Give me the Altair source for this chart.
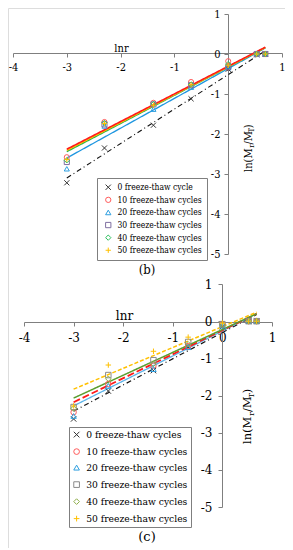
import altair as alt
import pandas as pd

# ---------------- data ----------------
lnr = [-3.00, -2.30, -1.39, -0.69, 0.00, 0.53, 0.69]
cycles = [0, 10, 20, 30, 40, 50]
labels_b = ["0 freeze-thaw cycle", "10 freeze-thaw cycles", "20 freeze-thaw cycles",
            "30 freeze-thaw cycles", "40 freeze-thaw cycles", "50 freeze-thaw cycles"]
labels_c = ["0 freeze-thaw cycles", "10 freeze-thaw cycles", "20 freeze-thaw cycles",
            "30 freeze-thaw cycles", "40 freeze-thaw cycles", "50 freeze-thaw cycles"]

# panel (b) measured points ln(Mr/MT)
b_0 = [-3.22, -2.35, -1.78, -1.12, -0.38, -0.02, 0.00]
b_10 = [-2.58, -1.70, -1.22, -0.70, -0.18, 0.00, 0.00]
b_20 = [-2.87, -1.80, -1.38, -0.83, -0.30, 0.00, 0.00]
b_30 = [-2.70, -1.76, -1.26, -0.78, -0.33, 0.00, 0.00]
b_40 = [-2.66, -1.72, -1.25, -0.76, -0.25, 0.00, 0.00]
b_50 = [-2.64, -1.74, -1.28, -0.77, -0.28, 0.00, 0.00]

# panel (c) measured points
c_0 = [-2.63, -1.88, -1.33, -0.70, -0.15, 0.00, 0.00]
c_10 = [-2.45, -1.69, -1.20, -0.67, -0.08, 0.00, 0.00]
c_20 = [-2.55, -1.74, -1.29, -0.70, -0.12, 0.00, 0.00]
c_30 = [-2.31, -1.45, -1.05, -0.56, -0.08, 0.00, 0.00]
c_40 = [-2.35, -1.55, -1.15, -0.62, -0.10, 0.00, 0.00]
c_50 = [-2.28, -1.18, -0.81, -0.43, -0.05, 0.00, 0.00]

# fitted lines (start / end at lnr = -3 and 0.69)
line_x = [-3.00, 0.69]
bl_0 = [-3.10, 0.08]
bl_10 = [-2.38, 0.17]
bl_20 = [-2.60, 0.15]
bl_40 = [-2.44, 0.16]
bl_50 = [-2.41, 0.16]
cl_0 = [-2.42, 0.18]
cl_10 = [-2.18, 0.20]
cl_20 = [-2.28, 0.20]
cl_40 = [-2.07, 0.20]
cl_50 = [-1.83, 0.24]

x_ticks = [-4, -3, -2, -1, 0, 1]
y_ticks = [-5, -4, -3, -2, -1, 0, 1]
captions = ["(b)", "(c)"]
axis_title_x = "lnr"

# ---------------- style ----------------
FONT_B = "DejaVu Serif Condensed"
FONT_C = "DejaVu Serif"
GRAY = "#7f7f7f"
x_shape = "M-1,-1L1,1M1,-1L-1,1"
plus_shape = "M-1,0L1,0M0,-1L0,1"
shapes = [x_shape, "circle", "triangle-up", "square", "diamond", plus_shape]
pt_colors_b = ["#333333", "#ff5a5a", "#2e9fe0", "#7f6fa0", "#2fbf5f", "#ffc000"]
pt_colors_c = ["#333333", "#ff5a5a", "#2e9fe0", "#8a8a8a", "#8fae4a", "#ffc000"]


def long_points(vals, labels):
    rows = []
    for lab, vs in zip(labels, vals):
        for xv, yv in zip(lnr, vs):
            rows.append({"lnr": xv, "val": yv, "series": lab})
    return pd.DataFrame(rows)


def make_panel(FONT, vals, labels, colors, lines, xr, yr, xoff, yoff, title_x, title_y,
               tick_fs, ylab_fs, leg, caption, cap_xy, ytitle, pad_x, pad_y):
    xenc = alt.X("lnr:Q", scale=alt.Scale(domain=[-4, 1], range=xr, nice=False, zero=False),
                 axis=alt.Axis(orient="bottom", offset=xoff, values=x_ticks,
                               labelExpr="'' + datum.value", labelFont=FONT,
                               labelFontSize=tick_fs, labelColor="black", labelPadding=pad_x,
                               labelOverlap=False, labelFlush=False,
                               tickSize=4, tickColor=GRAY, domainColor=GRAY, grid=False,
                               title=axis_title_x, titleFont=FONT, titleFontSize=tick_fs,
                               titleFontWeight="normal", titleX=title_x, titleY=title_y,
                               titleBaseline="alphabetic", titleAlign="center", titleAngle=0))
    yenc = alt.Y("val:Q", scale=alt.Scale(domain=[-5, 1], range=yr, nice=False, zero=False),
                 axis=alt.Axis(orient="left", offset=yoff, values=y_ticks,
                               labelExpr="'' + datum.value", labelFont=FONT,
                               labelFontSize=ylab_fs, labelColor="black", labelPadding=pad_y,
                               labelOverlap=False, labelFlush=False,
                               tickSize=4, tickColor=GRAY, domainColor=GRAY, grid=False,
                               title=None))
    layers = []
    for (lv, col, dash, sw) in lines:
        df_l = pd.DataFrame({"lnr": line_x, "val": lv})
        layers.append(alt.Chart(df_l).mark_line(color=col, strokeDash=dash, strokeWidth=sw)
                      .encode(x=xenc, y=yenc))
    legend = alt.Legend(title=None, orient="none", legendX=leg["x"], legendY=leg["y"],
                        direction="vertical", strokeColor=GRAY, fillColor="white",
                        padding=leg["pad"], labelFont=FONT, labelFontSize=leg["fs"],
                        labelColor="black", symbolSize=leg["ss"], symbolStrokeWidth=1,
                        rowPadding=leg["rp"], labelOffset=leg["lo"], symbolOffset=leg["so"],
                        labelLimit=0, cornerRadius=0)
    df_p = long_points(vals, labels)
    layers.append(alt.Chart(df_p).mark_point(filled=False, size=leg["ps"], strokeWidth=1, opacity=1)
                  .encode(x=xenc, y=yenc,
                          color=alt.Color("series:N", scale=alt.Scale(domain=labels, range=colors),
                                          legend=legend, sort=labels),
                          shape=alt.Shape("series:N", scale=alt.Scale(domain=labels, range=shapes),
                                          legend=legend, sort=labels)))
    # caption
    layers.append(alt.Chart(pd.DataFrame({"t": [caption]})).mark_text(
        font=FONT, fontSize=13, color="black", align="center", baseline="middle")
        .encode(text="t:N", x=alt.value(cap_xy[0]), y=alt.value(cap_xy[1])))
    # rotated y title ln(Mr/MT) with subscripts
    f = ytitle["fs"]
    bx, by = ytitle["x"], ytitle["y"]
    w = ytitle["w"]
    pieces = [("ln(M", 0.0, f, 0.0), ("r", w[0], 0.7 * f, 0.22 * f), ("/M", w[1], f, 0.0),
              ("T", w[2], 0.7 * f, 0.22 * f), (")", w[3], f, 0.0)]
    for txt, off, fs, dx in pieces:
        layers.append(alt.Chart(pd.DataFrame({"t": [txt]})).mark_text(
            font=FONT, fontSize=fs, color="black", angle=270, align="left", baseline="alphabetic")
            .encode(text="t:N", x=alt.value(bx + dx), y=alt.value(by - off * f)))
    return alt.layer(*layers)


lines_b = [
    (bl_0, "#111111", [5, 3, 1, 3], 1.1),
    (bl_20, "#1e96e0", [1, 0], 1.3),
    (bl_40, "#22b14c", [1, 0], 1.5),
    (bl_50, "#ffc000", [1, 0], 1.5),
    (bl_10, "#ff1a1a", [1, 0], 1.6),
]
lines_c = [
    (cl_0, "#111111", [5, 3, 1, 3], 1.2),
    (cl_20, "#5ab4ea", [1, 0], 1.3),
    (cl_10, "#ff1a1a", [7, 3], 1.8),
    (cl_40, "#5a9e2f", [1, 0], 1.5),
    (cl_50, "#ffc000", [4, 2], 1.5),
]

# DejaVu Serif advance widths (em) for the title pieces
w_full = [2.45, 2.45 + 0.33, 2.45 + 0.33 + 1.20, 2.45 + 0.33 + 1.20 + 0.43]
w_cond = [v * 0.9 for v in w_full]

panel_b = make_panel(FONT_B, [b_0, b_10, b_20, b_30, b_40, b_50], labels_b, pt_colors_b, lines_b,
                     xr=[5, 274], yr=[246, 6], xoff=-495, yoff=-220, title_x=113, title_y=-2,
                     tick_fs=11, ylab_fs=11,
                     leg={"x": 89, "y": 170, "pad": 5, "fs": 8.5, "ss": 28, "rp": 2.6,
                          "lo": 5, "so": 2, "ps": 26},
                     caption=captions[0], cap_xy=(139, 262),
                     ytitle={"x": 244, "y": 164, "fs": 11, "w": w_cond}, pad_x=4, pad_y=4)

panel_c = make_panel(FONT_C, [c_0, c_10, c_20, c_30, c_40, c_50], labels_c, pt_colors_c, lines_c,
                     xr=[16, 264], yr=[499, 276], xoff=-226, yoff=-214, title_x=116, title_y=-3,
                     tick_fs=12, ylab_fs=12,
                     leg={"x": 61, "y": 419, "pad": 3, "fs": 9.2, "ss": 32, "rp": 6.0,
                          "lo": 5, "so": 0, "ps": 30},
                     caption=captions[1], cap_xy=(139, 529),
                     ytitle={"x": 243, "y": 436, "fs": 11.5, "w": w_full}, pad_x=6, pad_y=6)

chart = (alt.layer(panel_b, panel_c)
         .resolve_scale(x="independent", y="independent", color="independent", shape="independent")
         .properties(width=277, height=540, padding=0,
                     autosize=alt.AutoSizeParams(type="none"))
         .configure_view(stroke=None)
         .configure(background="white"))

chart.save("out.html", embed_options={"renderer": "svg", "actions": False})
